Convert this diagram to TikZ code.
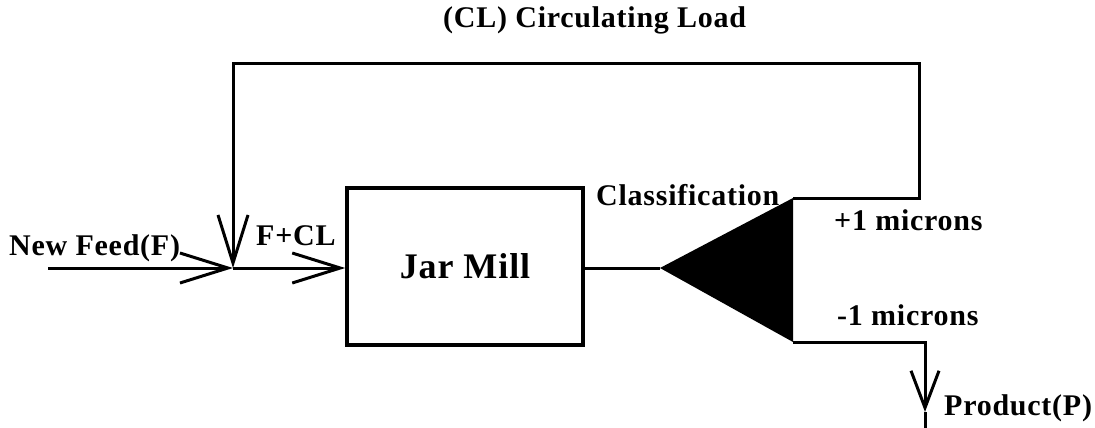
\documentclass[tikz,border=0pt]{standalone}
\usepackage{fontspec}
\setmainfont{Liberation Serif}[LetterSpace=2.5]
\usetikzlibrary{arrows.meta}
\begin{document}
\begin{tikzpicture}[x=1pt,y=-1pt,
  lbl/.style={font=\bfseries\fontsize{30}{32}\selectfont, inner sep=0pt, anchor=base west},
  flow/.style={line width=3pt},
  barb/.style={-{Straight Barb[length=48pt,width=30pt,line width=3pt]}},
  pbarb/.style={-{Straight Barb[length=37pt,width=28pt,line width=3pt]}},
  millbox/.style={draw, line width=3.5pt, minimum width=236pt, minimum height=157pt, inner sep=0pt,
    font=\bfseries\fontsize{36}{38}\selectfont}]
\useasboundingbox (0,0) rectangle (1095,428);
% nodes and points
\node[millbox] (mill) at (465,266.5) {Jar Mill};
\coordinate (feed) at (48,268);
\coordinate (junc) at (233,268);
\coordinate (apex) at (660,268);
\coordinate (tt) at (793,198);
\coordinate (tb) at (793,342);
\coordinate (tr) at (919,198);
\coordinate (ur) at (919,64);
\coordinate (ul) at (233,64);
\coordinate (br) at (925,342);
\coordinate (ptip) at (925,412);
\coordinate (pend) at (925,428);
% classifier
\fill (apex) -- (tt) -- (tb) -- cycle;
\draw[flow] (mill.east |- apex) -- (apex);
% feed
\draw[flow,barb] (feed) -- (junc);
\draw[flow,barb] (junc) -- (mill.west |- junc);
% circulating load
\draw[flow,barb] (tt) -- (tr) -- (ur) -- (ul) -- (junc);
% product
\draw[flow,pbarb] (tb) -- (br) -- (ptip);
\draw[flow] (ptip) -- (pend);
% labels
\node[lbl] (cl) at (443,28) {(CL) Circulating Load};
\node[lbl] (nf) at (9,255) {New Feed(F)};
\node[lbl] (fcl) at (256,245) {F+CL};
\node[lbl] (cls) at (596,205) {Classification};
\node[lbl] (plus) at (834,230) {+1 microns};
\node[lbl] (minus) at (837,325) {-1 microns};
\node[lbl] (prod) at (944,415) {Product(P)};
\end{tikzpicture}
\end{document}
